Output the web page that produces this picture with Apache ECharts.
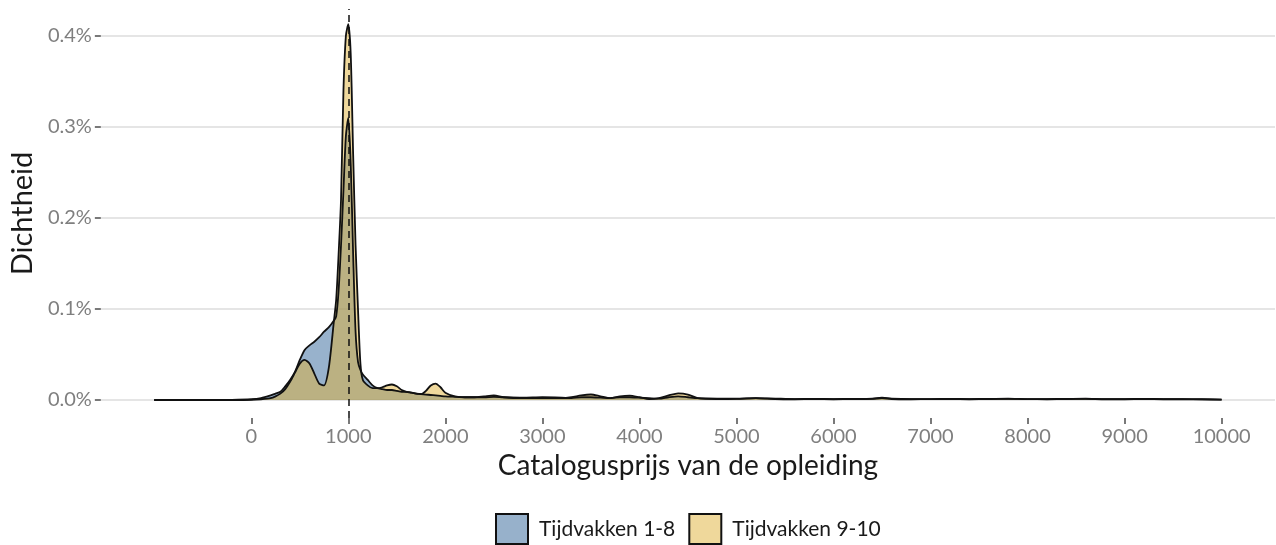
<!DOCTYPE html>
<html>
<head>
<meta charset="utf-8">
<title>Dichtheid catalogusprijs</title>
<script src="https://cdn.jsdelivr.net/npm/echarts@6/dist/echarts.min.js"></script>
<style>
	html, body { margin: 0; padding: 0; background: #fff; }
	#chart { width: 1276px; height: 545px; }
</style>
</head>
<body>
<div id="chart"></div>
<script>
// prijs (x), gedeeld door beide reeksen
var prijs = [
	-1000, -500, -200, 0,
	100, 200,
	250, 300, 350, 400, 450, 500, 550, 600, 650, 700, 750, 800, 850,
	875, 900, 925, 950, 975, 1000, 1025, 1050, 1075, 1100, 1125, 1150,
	1200, 1250, 1300, 1350, 1400, 1450, 1500, 1550, 1600, 1650, 1700, 1750, 1800, 1850, 1900, 1950, 2000,
	2100, 2200, 2300, 2400, 2500, 2600,
	2800, 3000, 3200,
	3300, 3400, 3500, 3600, 3700, 3800, 3900, 4000, 4100, 4200, 4300, 4400, 4500, 4600,
	4800, 5000, 5200, 5400, 5600, 5800, 6000, 6200, 6400,
	6500, 6600,
	6800, 7000, 7200, 7400, 7600, 7800, 8000, 8200, 8400, 8600, 8800, 9000, 9200, 9400, 9600, 9800, 10000
];
// dichtheid in %
var tijdvakken18 = [
	0, 0, 0.0002, 0.0008,
	0.002, 0.005,
	0.007, 0.009, 0.015, 0.022, 0.031, 0.044, 0.055, 0.060, 0.064, 0.069, 0.075, 0.080, 0.087,
	0.092, 0.12, 0.17, 0.23, 0.29, 0.31, 0.26, 0.16, 0.075, 0.042, 0.033, 0.028,
	0.022, 0.016, 0.013, 0.012, 0.011, 0.011, 0.010, 0.009, 0.009, 0.008, 0.007, 0.0065, 0.006, 0.0055, 0.005, 0.0045, 0.004,
	0.0035, 0.003, 0.003, 0.003, 0.0035, 0.003,
	0.0025, 0.003, 0.0025,
	0.002, 0.003, 0.003, 0.0025, 0.002, 0.003, 0.003, 0.0025, 0.002, 0.0015, 0.003, 0.004, 0.003, 0.002,
	0.0015, 0.0015, 0.002, 0.0015, 0.001, 0.0012, 0.001, 0.0012, 0.0015,
	0.0025, 0.0015,
	0.001, 0.001, 0.0012, 0.001, 0.0012, 0.0015, 0.001, 0.001, 0.0012, 0.0015, 0.001, 0.001, 0.0012, 0.001, 0.001, 0.0008, 0.0005
];
var tijdvakken910 = [
	0, 0, 0, 0.0002,
	0.0008, 0.002,
	0.004, 0.007, 0.012, 0.020, 0.030, 0.040, 0.044, 0.040, 0.029, 0.018, 0.016, 0.036, 0.085,
	0.11, 0.16, 0.22, 0.34, 0.40, 0.413, 0.38, 0.27, 0.17, 0.10, 0.04, 0.022,
	0.016, 0.013, 0.013, 0.014, 0.016, 0.017, 0.015, 0.011, 0.009, 0.008, 0.007, 0.0065, 0.010, 0.016, 0.018, 0.014, 0.008,
	0.004, 0.003, 0.003, 0.004, 0.005, 0.003,
	0.002, 0.002, 0.002,
	0.003, 0.005, 0.006, 0.004, 0.002, 0.004, 0.0047, 0.003, 0.001, 0.002, 0.005, 0.0073, 0.006, 0.002,
	0.001, 0.0012, 0.002, 0.001, 0.0008, 0.001, 0.0008, 0.001, 0.0012,
	0.002, 0.001,
	0.0008, 0.001, 0.001, 0.0008, 0.001, 0.0012, 0.001, 0.0008, 0.001, 0.0012, 0.0008, 0.0008, 0.001, 0.0008, 0.0008, 0.0006, 0.0004
];
var xTicks = [0, 1000, 2000, 3000, 4000, 5000, 6000, 7000, 8000, 9000, 10000];
var yTicks = [0, 0.1, 0.2, 0.3, 0.4];
var reeksNamen = ['Tijdvakken 1-8', 'Tijdvakken 9-10'];

function paren(ys) {
	return prijs.map(function(x, i) {
		return [x, ys[i]];
	});
}

var font = 'Lato, "Open Sans", sans-serif';
var chart = echarts.init(document.getElementById('chart'));
chart.setOption({
	animation : false,
	textStyle : { fontFamily : font },
	grid : {
		left : 99,
		right : 1,
		top : 9,
		bottom : 127
	},
	legend : {
		bottom : -5,
		left : 490,
		icon : 'rect',
		itemWidth : 32,
		itemHeight : 30,
		itemGap : 13,
		textStyle : { fontSize : 21, color : '#1a1a1a', fontFamily : font, padding : [0, 0, 0, 6] },
		data : [
			{ name : reeksNamen[0], itemStyle : { color : '#97b1cb', borderColor : '#111', borderWidth : 2 } },
			{ name : reeksNamen[1], itemStyle : { color : '#efd89b', borderColor : '#111', borderWidth : 2 } }
		]
	},
	xAxis : {
		type : 'value',
		position : 'bottom',
		min : -1550,
		max : 10550,
		name : 'Catalogusprijs van de opleiding',
		nameLocation : 'middle',
		nameGap : 33,
		nameTextStyle : { fontSize : 28, color : '#1a1a1a' },
		axisLine : { show : false, onZero : false },
		axisTick : {
			show : true,
			length : 6,
			customValues : xTicks,
			lineStyle : { color : '#4d4d4d', width : 1.5 }
		},
		axisLabel : {
			customValues : xTicks,
			fontSize : 20,
			color : '#7f7f7f',
			margin : 9,
			formatter : function(v) {
				return String(v);
			}
		},
		splitLine : { show : false }
	},
	yAxis : {
		type : 'value',
		min : -0.0198,
		max : 0.4297,
		name : 'Dichtheid',
		nameLocation : 'middle',
		nameGap : 62,
		nameTextStyle : { fontSize : 29, color : '#1a1a1a' },
		axisLine : { show : false, onZero : false },
		axisTick : {
			show : true,
			length : 6,
			customValues : yTicks,
			lineStyle : { color : '#4d4d4d', width : 1.5 }
		},
		axisLabel : {
			customValues : yTicks,
			fontSize : 20,
			color : '#7f7f7f',
			margin : 9,
			formatter : function(v) {
				return v.toFixed(1) + '%';
			}
		},
		splitLine : {
			show : true,
			lineStyle : { color : '#dcdcdc', width : 1.5 }
		}
	},
	series : [{
		name : reeksNamen[0],
		type : 'line',
		smooth : 0.25,
		showSymbol : false,
		lineStyle : { color : '#111', width : 1.8 },
		itemStyle : { color : '#97b1cb' },
		areaStyle : { color : 'rgba(49,101,153,0.5)', opacity : 1 },
		data : paren(tijdvakken18)
	}, {
		name : reeksNamen[1],
		type : 'line',
		smooth : 0.25,
		showSymbol : false,
		lineStyle : { color : '#111', width : 1.8 },
		itemStyle : { color : '#efd89b' },
		areaStyle : { color : 'rgba(223,177,57,0.5)', opacity : 1 },
		data : paren(tijdvakken910),
		markLine : {
			silent : true,
			symbol : 'none',
			label : { show : false },
			lineStyle : { color : '#111', type : [7, 5], width : 1.5 },
			data : [{ xAxis : 1000 }]
		}
	}]
});
</script>
</body>
</html>
